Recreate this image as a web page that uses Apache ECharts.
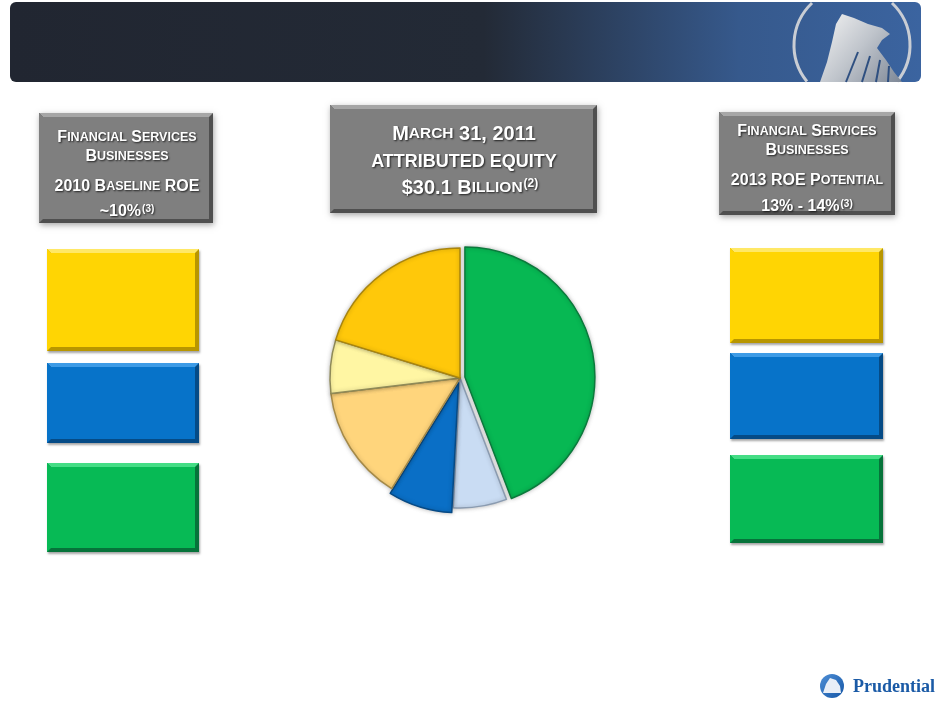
<!DOCTYPE html>
<html>
<head>
<meta charset="utf-8">
<script src="https://cdn.jsdelivr.net/npm/echarts@6/dist/echarts.min.js"></script>
<style>
  html, body { margin: 0; padding: 0; background: #fff; }
  #main { width: 941px; height: 704px; }
</style>
</head>
<body>
<div id="main"></div>
<script>
// attributed equity by segment, $ billions
var segments = ['International Insurance', 'Group Insurance', 'Individual Life', 'Retirement', 'Asset Management', 'Individual Annuities'];
var equity = [13.3, 2.0, 2.4, 4.3, 2.0, 6.1];
var exploded = [true, false, true, false, false, false];
var sliceColors = ['#07b853', '#c9dcf3', '#0a6fc6', '#ffd57c', '#fff6a3', '#ffc80a'];
var sliceEdges = ['#0b7a3c', '#8a9bb0', '#074a85', '#a58a48', '#8f8a58', '#a9850e'];

var font = '"Liberation Sans", Arial, sans-serif';

function bevelBox(x, y, w, h, base, light, dark, shadow) {
    var b = 4;
    return {
        type: 'group',
        children: [
            { type: 'rect', shape: { x: x, y: y, width: w, height: h },
              style: { fill: dark, shadowBlur: shadow ? 6 : 2, shadowColor: 'rgba(0,0,0,0.35)', shadowOffsetX: 1, shadowOffsetY: 2 } },
            { type: 'polygon', shape: { points: [[x, y], [x + w, y], [x + w - b, y + b], [x + b, y + b]] },
              style: { fill: light } },
            { type: 'polygon', shape: { points: [[x, y], [x + b, y + b], [x + b, y + h - b], [x, y + h]] },
              style: { fill: base } },
            { type: 'rect', shape: { x: x + b, y: y + b, width: w - 2 * b, height: h - 2 * b },
              style: { fill: base } }
        ]
    };
}

function richStyles(big, small) {
    var sh = { textShadowColor: 'rgba(0,0,0,0.75)', textShadowOffsetX: 1, textShadowOffsetY: 1, textShadowBlur: 2 };
    function s(size, extra) {
        var o = { fontSize: size, fontWeight: 'bold', fontFamily: font, fill: '#fff' };
        for (var k in sh) o[k] = sh[k];
        for (var e in extra || {}) o[e] = extra[e];
        return o;
    }
    return {
        c: s(big),
        s: s(small),
        sup: s(Math.round(big * 0.6), { verticalAlign: 'top', padding: [0, 0, 6, 1] })
    };
}

function line(x, y, text, big, small) {
    return {
        type: 'text',
        x: x, y: y,
        style: {
            text: text,
            rich: richStyles(big, small),
            fontFamily: font, fontWeight: 'bold', fontSize: big, fill: '#fff',
            align: 'center', verticalAlign: 'middle'
        }
    };
}

var yellow = ['#ffd503', '#ffe866', '#b89600'];
var blue = ['#0773c9', '#3d9be6', '#054b86'];
var green = ['#07ba55', '#44dd85', '#06733a'];
var gray = ['#7f7f7f', '#a6a6a6', '#4f4f4f'];

var ringStyle = { stroke: '#c9cdd4', lineWidth: 3, fill: null };
var graphics = [
    // header banner
    { type: 'rect', shape: { x: 10, y: 2, width: 911, height: 80, r: 6 },
      style: { fill: new echarts.graphic.LinearGradient(0, 0, 1, 0, [
          { offset: 0, color: '#212631' },
          { offset: 0.52, color: '#232a36' },
          { offset: 0.8, color: '#36598c' },
          { offset: 1, color: '#3b64a0' }
      ]) } },
    // logo ring, only the parts inside the banner
    { type: 'arc', shape: { cx: 852, cy: 45, r: 58, startAngle: -0.81, endAngle: 0.68 }, style: ringStyle },
    { type: 'arc', shape: { cx: 852, cy: 45, r: 58, startAngle: Math.PI - 0.68, endAngle: Math.PI + 0.81 }, style: ringStyle },
    { type: 'polygon', shape: { points: [[820, 82], [827, 62], [832, 42], [836, 24], [842, 14], [854, 18], [868, 24], [882, 28], [890, 34],
                                          [882, 40], [877, 48], [886, 60], [894, 72], [902, 82]] },
      style: { fill: new echarts.graphic.LinearGradient(0, 0, 1, 1, [
          { offset: 0, color: '#f4f4f4' }, { offset: 0.5, color: '#bfc4cb' }, { offset: 1, color: '#7d8796' }
      ]) } },
    { type: 'polyline', shape: { points: [[846, 82], [858, 52]] }, style: { stroke: '#2e4f80', lineWidth: 2 } },
    { type: 'polyline', shape: { points: [[862, 82], [870, 56]] }, style: { stroke: '#2e4f80', lineWidth: 2 } },
    { type: 'polyline', shape: { points: [[876, 82], [880, 60]] }, style: { stroke: '#2e4f80', lineWidth: 2 } },
    { type: 'polyline', shape: { points: [[888, 82], [889, 66]] }, style: { stroke: '#2e4f80', lineWidth: 2 } },

    // left panel
    bevelBox(39, 113, 174, 110, gray[0], gray[1], gray[2], true),
    line(127, 138, '{c|F}{s|INANCIAL} {c|S}{s|ERVICES}', 16, 12.5),
    line(127, 157, '{c|B}{s|USINESSES}', 16, 12.5),
    line(127, 187, '{c|2010 B}{s|ASELINE} {c|ROE}', 16, 12.5),
    line(127, 212, '{c|~10%}{sup|(3)}', 16, 12.5),
    bevelBox(47, 249, 152, 102, yellow[0], yellow[1], yellow[2]),
    bevelBox(47, 363, 152, 80, blue[0], blue[1], blue[2]),
    bevelBox(47, 463, 152, 89, green[0], green[1], green[2]),

    // centre panel
    bevelBox(330, 105, 267, 108, gray[0], gray[1], gray[2], true),
    line(464, 134, '{c|M}{s|ARCH} {c|31, 2011}', 20, 15.5),
    line(464, 162, '{c|ATTRIBUTED EQUITY}', 18, 15),
    line(470, 188, '{c|$30.1 B}{s|ILLION}{sup|(2)}', 20, 15.5),

    // right panel
    bevelBox(719, 112, 176, 103, gray[0], gray[1], gray[2], true),
    line(807, 132, '{c|F}{s|INANCIAL} {c|S}{s|ERVICES}', 16, 12.5),
    line(807, 151, '{c|B}{s|USINESSES}', 16, 12.5),
    line(807, 181, '{c|2013 ROE P}{s|OTENTIAL}', 16, 12.5),
    line(807, 207, '{c|13% - 14%}{sup|(3)}', 16, 12.5),
    bevelBox(730, 248, 153, 95, yellow[0], yellow[1], yellow[2]),
    bevelBox(730, 353, 153, 86, blue[0], blue[1], blue[2]),
    bevelBox(730, 455, 153, 88, green[0], green[1], green[2]),

    // footer logo
    { type: 'circle', shape: { cx: 832, cy: 686, r: 12 },
      style: { fill: new echarts.graphic.LinearGradient(0, 0, 1, 1, [
          { offset: 0, color: '#4f8fd6' }, { offset: 1, color: '#1556a6' }
      ]) } },
    { type: 'polygon', shape: { points: [[823, 693], [826, 684], [830, 678], [836, 680], [840, 686], [841, 693]] },
      style: { fill: '#e8eef7' } },
    { type: 'text', x: 853, y: 687,
      style: { text: 'Prudential', fontFamily: '"Liberation Serif", "DejaVu Serif", serif', fontWeight: 'bold', fontSize: 18,
               fill: '#1a5aa6', verticalAlign: 'middle' } }
];

var pieData = [];
for (var i = 0; i < segments.length; i++) {
    pieData.push({
        name: segments[i],
        value: equity[i],
        selected: exploded[i],
        itemStyle: { color: sliceColors[i], borderColor: sliceEdges[i] }
    });
}

var myChart = echarts.init(document.getElementById('main'));
var option = {
    backgroundColor: '#ffffff',
    animation: false,
    graphic: graphics,
    series: [{
        type: 'pie',
        center: [460, 378],
        radius: 130,
        startAngle: 90,
        clockwise: true,
        selectedMode: 'multiple',
        selectedOffset: 5,
        label: { show: false },
        labelLine: { show: false },
        itemStyle: {
            borderWidth: 1.5,
            shadowBlur: 4,
            shadowColor: 'rgba(0,0,0,0.25)'
        },
        emphasis: { disabled: true },
        data: pieData
    }]
};
myChart.setOption(option);
</script>
</body>
</html>
